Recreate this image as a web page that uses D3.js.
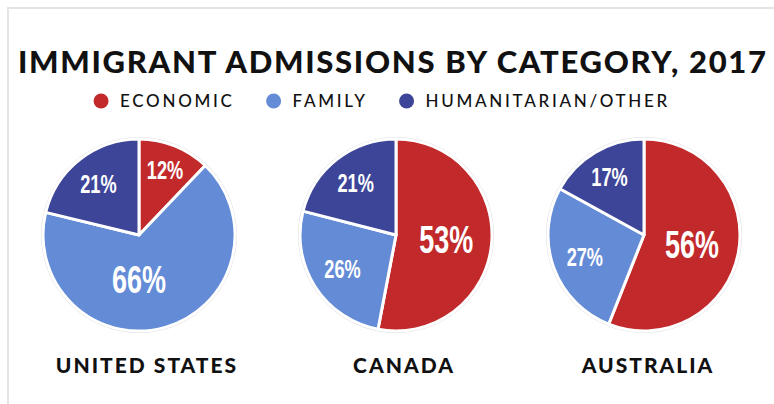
<!DOCTYPE html>
<html>
<head>
<meta charset="utf-8">
<script src="https://cdn.jsdelivr.net/npm/d3@7"></script>
<style>
  body { margin: 0; background: #fff; }
  svg { display: block; }
</style>
</head>
<body>
<div id="chart"></div>
<script>
const categories = ["ECONOMIC", "FAMILY", "HUMANITARIAN/OTHER"]
const countries = ["UNITED STATES", "CANADA", "AUSTRALIA"]
// percent shares, in category order
const economic = [12, 53, 56]
const family = [66, 26, 27]
const humanitarian = [21, 21, 17]
const title = "IMMIGRANT ADMISSIONS BY CATEGORY, 2017"

const colors = ["#c1292b", "#648bd6", "#3d4599"]

const width = 774, height = 404
const radius = 96, cy = 235

const svg = d3.select("#chart").append("svg")
    .attr("width", width)
    .attr("height", height)

// frame
svg.append("path")
    .attr("d", "M8,404 V8 H774")
    .attr("fill", "none")
    .attr("stroke", "#e4e4e4")
    .attr("stroke-width", 2)

svg.append("text")
    .attr("x", 18).attr("y", 73)
    .attr("textLength", 748)
    .attr("lengthAdjust", "spacing")
    .style("font-family", "Lato, 'Open Sans', sans-serif")
    .style("font-weight", 900)
    .style("font-size", "31px")
    .attr("fill", "#111")
    .text(title)

// legend, laid out left to right then centred
const legend = svg.append("g")
let lx = 0
categories.forEach((c, i) => {
    legend.append("circle").attr("cx", lx + 7).attr("cy", 0).attr("r", 7.5).attr("fill", colors[i])
    const t = legend.append("text")
        .attr("x", lx + 26).attr("y", 6)
        .style("font-family", "Lato, sans-serif")
        .style("font-weight", 500)
        .style("font-size", "17px")
        .style("letter-spacing", "2.7px")
        .attr("fill", "#111")
        .text(c)
    lx += 26 + t.node().getComputedTextLength() + 32
})
const lw = lx - 32
legend.attr("transform", `translate(${382 - lw / 2},101)`)

const x = d3.scaleOrdinal().domain(countries).range([139, 396, 644])

const pie = d3.pie().sort(null).value(d => d)
    .startAngle(0).endAngle(2 * Math.PI)
const arc = d3.arc().innerRadius(0).outerRadius(radius)

countries.forEach((country, i) => {
    const vals = [economic[i], family[i], humanitarian[i]]
    const total = d3.sum(vals)
    const g = svg.append("g").attr("transform", `translate(${x(country)},${cy})`)

    g.append("circle").attr("r", radius + 1.5)
        .attr("fill", "none").attr("stroke", "#dedede").attr("stroke-width", 1)

    const arcs = pie(vals.map(v => v / total))
    g.selectAll("path").data(arcs).join("path")
        .attr("d", arc)
        .attr("fill", (d, j) => colors[j])
        .attr("stroke", "#fff")
        .attr("stroke-width", 3)
        .attr("stroke-linejoin", "round")

    // condensed look: squeeze a bold sans horizontally
    g.selectAll("text.pct").data(arcs).join("text")
        .attr("class", "pct")
        .each(function (d, j) {
            const v = vals[j]
            const lr = radius * (0.79 - 0.5 * v / 100)
            let a = (d.startAngle + d.endAngle) / 2
            if (v > 60) a = Math.PI
            const big = v >= 50
            d3.select(this)
                .attr("transform", `translate(${Math.sin(a) * lr},${-Math.cos(a) * lr}) scale(${big ? 0.71 : 0.7},1)`)
                .attr("dy", "0.36em")
                .style("font-size", big ? "38px" : "26px")
                .text(v + "%")
        })
        .attr("text-anchor", "middle")
        .style("font-family", "'Liberation Sans', Arial, sans-serif")
        .style("font-weight", 700)
        .attr("fill", "#fff")

    svg.append("text")
        .attr("x", x(country) + (i == 2 ? 4 : 8)).attr("y", 373)
        .attr("text-anchor", "middle")
        .style("font-family", "Lato, sans-serif")
        .style("font-weight", 900)
        .style("font-size", "21px")
        .style("letter-spacing", "2px")
        .attr("fill", "#111")
        .text(country)
})
</script>
</body>
</html>
